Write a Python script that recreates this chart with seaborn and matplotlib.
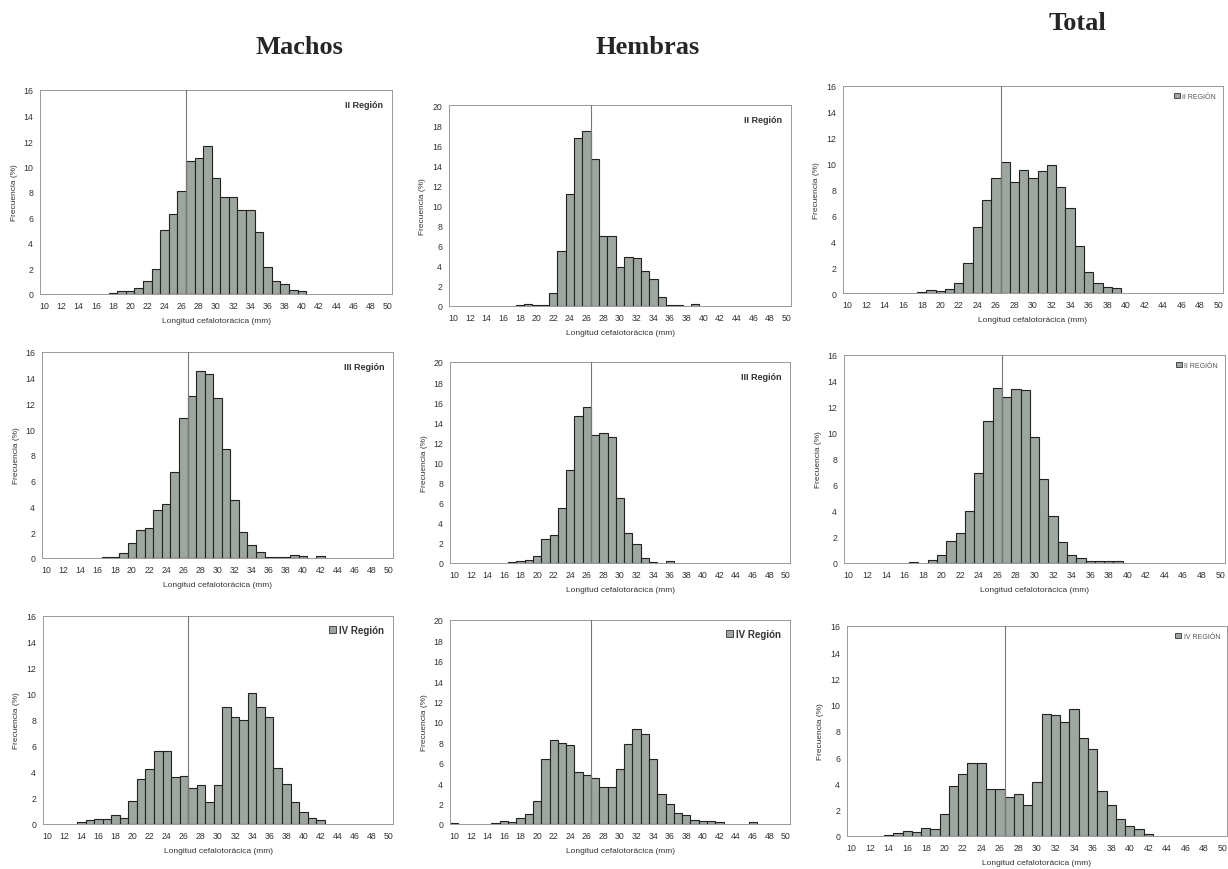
import numpy as np
import pandas as pd
import seaborn as sns
import matplotlib.pyplot as plt
from matplotlib.patches import Patch

# tallas (mm), una clase por milimetro
longitudes = list(range(10, 51))

machos_ii = [0, 0, 0, 0, 0, 0, 0, 0,
             0.1, 0.25, 0.25, 0.5, 1.0, 2.0, 5.0, 6.3, 8.1, 10.4, 10.7, 11.6, 9.1,
             7.6, 7.6, 6.6, 6.6, 4.9, 2.1, 1.0, 0.8, 0.3, 0.2,
             0, 0, 0, 0, 0, 0, 0, 0, 0, 0]
hembras_ii = [0, 0, 0, 0, 0, 0, 0, 0,
              0.05, 0.15, 0.05, 0.05, 1.3, 5.5, 11.1, 16.7, 17.4, 14.6, 7.0, 7.0,
              3.9, 4.9, 4.8, 3.5, 2.7, 0.9, 0.1, 0.1, 0, 0.15,
              0, 0, 0, 0, 0, 0, 0, 0, 0, 0, 0]
total_ii = [0, 0, 0, 0, 0, 0, 0, 0,
            0.1, 0.2, 0.15, 0.3, 0.8, 2.3, 5.1, 7.2, 8.9, 10.1, 8.6, 9.5, 8.9,
            9.4, 9.9, 8.2, 6.6, 3.6, 1.6, 0.8, 0.5, 0.4,
            0, 0, 0, 0, 0, 0, 0, 0, 0, 0, 0]

machos_iii = [0, 0, 0, 0, 0, 0, 0,
              0.1, 0.05, 0.35, 1.2, 2.2, 2.3, 3.7, 4.2, 6.7, 10.9, 12.6, 14.5,
              14.3, 12.4, 8.5, 4.5, 2.0, 1.0, 0.5, 0.1, 0.1, 0.1, 0.2, 0.15, 0, 0.15,
              0, 0, 0, 0, 0, 0, 0, 0]
hembras_iii = [0, 0, 0, 0, 0, 0, 0,
               0.05, 0.15, 0.3, 0.7, 2.4, 2.8, 5.5, 9.3, 14.6, 15.5, 12.7, 12.9,
               12.5, 6.5, 3.0, 1.9, 0.5, 0.1, 0, 0.15,
               0, 0, 0, 0, 0, 0, 0, 0, 0, 0, 0, 0, 0, 0]
total_iii = [0, 0, 0, 0, 0, 0, 0,
             0.1, 0, 0.2, 0.6, 1.7, 2.3, 4.0, 6.9, 10.9, 13.5, 12.8, 13.4, 13.3,
             9.7, 6.5, 3.6, 1.6, 0.6, 0.4, 0.15, 0.15, 0.15, 0.15,
             0, 0, 0, 0, 0, 0, 0, 0, 0, 0, 0]

machos_iv = [0, 0, 0, 0,
             0.15, 0.3, 0.4, 0.4, 0.7, 0.5, 1.8, 3.5, 4.2, 5.6, 5.6, 3.6, 3.7,
             2.8, 3.0, 1.7, 3.0, 9.0, 8.2, 8.0, 10.1, 9.0, 8.2, 4.3, 3.1, 1.7,
             0.9, 0.5, 0.3,
             0, 0, 0, 0, 0, 0, 0, 0]
hembras_iv = [0.1, 0, 0, 0, 0,
              0.1, 0.3, 0.15, 0.6, 1.0, 2.3, 6.4, 8.2, 7.9, 7.7, 5.1, 4.8, 4.5,
              3.6, 3.6, 5.4, 7.8, 9.3, 8.8, 6.4, 2.9, 2.0, 1.1, 0.9, 0.35, 0.3,
              0.3, 0.15, 0, 0, 0, 0.15,
              0, 0, 0, 0]
total_iv = [0, 0, 0, 0,
            0.05, 0.2, 0.35, 0.3, 0.6, 0.5, 1.7, 3.8, 4.7, 5.6, 5.6, 3.6, 3.6,
            3.0, 3.2, 2.4, 4.1, 9.3, 9.2, 8.7, 9.7, 7.5, 6.6, 3.4, 2.4, 1.3,
            0.8, 0.5, 0.15,
            0, 0, 0, 0, 0, 0, 0, 0]

talla_ref = 26.5  # linea vertical de referencia
titulos = ["Machos", "Hembras", "Total"]
etiquetas = [["II Región", "II Región", "II REGIÓN"],
             ["III Región", "III Región", "II REGIÓN"],
             ["IV Región", "IV Región", "IV REGIÓN"]]
series = [[machos_ii, hembras_ii, total_ii],
          [machos_iii, hembras_iii, total_iii],
          [machos_iv, hembras_iv, total_iv]]
ymax = [16, 20, 16]

# cajas de los paneles en pixeles (izq, arriba, der, abajo)
cajas = [[(40, 91, 392, 295), (449, 106, 791, 307), (843, 87, 1223, 294)],
         [(42, 353, 393, 559), (450, 363, 790, 564), (844, 356, 1225, 564)],
         [(43, 617, 393, 825), (450, 621, 790, 825), (847, 627, 1227, 837)]]

W, H = 1228, 870
sns.set_style("white")
plt.rcParams['font.family'] = ['Liberation Sans', 'DejaVu Sans']

fig = plt.figure(figsize=(W / 100, H / 100), dpi=100)
bar_color = "#9da69f"
txt_color = "#333333"

for i in range(3):
    for j in range(3):
        l, t, r, b = cajas[i][j]
        ax = fig.add_axes([l / W, 1 - b / H, (r - l) / W, (b - t) / H])
        df = pd.DataFrame({"longitud": longitudes, "frec": series[i][j]})
        df = df[df["frec"] > 0]
        sns.barplot(data=df, x="longitud", y="frec", native_scale=True,
                    width=1, color=bar_color, edgecolor="#222222",
                    linewidth=0.8, saturation=1, ax=ax)
        ax.axvline(talla_ref, color="#777777", lw=0.8, zorder=3)
        ax.set_xlim(9.5, 50.5)
        ax.set_ylim(0, ymax[j])
        ax.set_xticks(range(10, 51, 2))
        ax.set_xticks(range(10, 51), minor=True)
        ax.set_yticks(range(0, ymax[j] + 1, 2))
        ax.tick_params(axis="both", which="major", labelsize=6.3, length=2,
                       width=0.6, color="#888888", labelcolor=txt_color, pad=3)
        ax.tick_params(axis="x", which="minor", length=1.5, width=0.5,
                       color="#888888")
        ax.set_xlabel("Longitud cefalotorácica (mm)", fontsize=6,
                      color=txt_color, labelpad=5)
        ax.set_ylabel("Frecuencia (%)", fontsize=6, color=txt_color,
                      labelpad=4)
        for s in ax.spines.values():
            s.set_color("#999999")
            s.set_linewidth(0.7)

        lab = etiquetas[i][j]
        if j == 2:
            ax.legend(handles=[Patch(facecolor=bar_color, edgecolor="#333333",
                                     linewidth=0.6, label=lab)],
                      loc="upper right", frameon=False, fontsize=5,
                      handlelength=0.8, handleheight=0.8, handletextpad=0.4,
                      labelcolor="#555555", borderaxespad=0.6)
        elif i == 2:
            ax.legend(handles=[Patch(facecolor=bar_color, edgecolor="#333333",
                                     linewidth=0.6, label=lab)],
                      loc="upper right", frameon=False,
                      prop={"size": 7, "weight": "bold"},
                      handlelength=0.8, handleheight=0.8, handletextpad=0.3,
                      labelcolor=txt_color, borderaxespad=0.5)
        else:
            ax.text(0.975, 0.95, lab, transform=ax.transAxes, ha="right",
                    va="top", fontsize=6.5, fontweight="bold", color=txt_color)

# titulos de columna
for (x, y), titulo in zip([(299, 48), (648, 48), (1077, 23)], titulos):
    fig.text(x / W, 1 - y / H, titulo, ha="center", va="center",
             fontsize=19, fontweight="bold", family="Liberation Serif")

fig.savefig("out.png", dpi=100)
